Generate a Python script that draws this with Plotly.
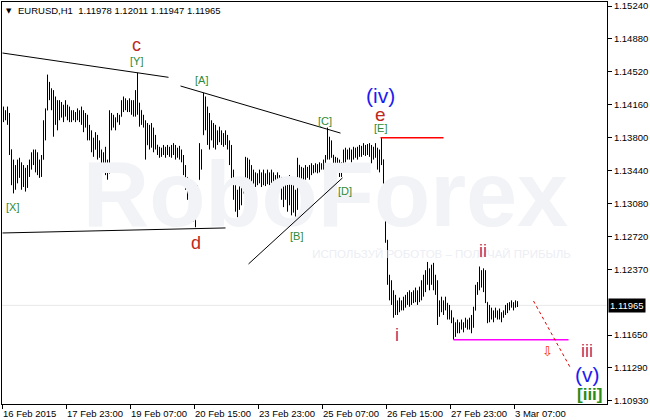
import plotly.graph_objects as go

# ---------------- price data (EURUSD H1), values in price x 10000 ----------------
HIGH_PTS = [
    11414, 11410, 11414, 11407, 11367, 11356, 11350, 11356, 11358, 11353,
    11350, 11347, 11350, 11356, 11364, 11367, 11367, 11364, 11356, 11361,
    11399, 11412, 11449, 11441, 11434, 11432, 11425, 11421, 11421, 11419,
    11416, 11421, 11416, 11414, 11410, 11410, 11408, 11412, 11410, 11414,
    11410, 11407, 11405, 11394, 11388, 11380, 11386, 11383, 11377, 11367,
    11364, 11370, 11356, 11410, 11407, 11405, 11402, 11407, 11405, 11421,
    11425, 11423, 11421, 11423, 11421, 11421, 11432, 11451, 11418, 11410,
    11405, 11399, 11396, 11394, 11396, 11391, 11383, 11372, 11370, 11369,
    11372, 11370, 11372, 11370, 11372, 11374, 11372, 11369, 11371, 11367,
    11361, 11350, 11337, 11334, 11328, 11323, 11312, 11328, 11374, 11367,
    11429, 11425, 11414, 11407, 11399, 11396, 11394, 11388, 11392, 11388,
    11385, 11388, 11383, 11377, 11372, 11345, 11328, 11323, 11328, 11331,
    11334, 11359, 11358, 11356, 11350, 11345, 11342, 11341, 11345, 11342,
    11345, 11341, 11345, 11342, 11345, 11342, 11339, 11342, 11339, 11337,
    11334, 11336, 11331, 11339, 11334, 11328, 11323, 11358, 11350, 11348,
    11347, 11350, 11348, 11350, 11352, 11350, 11352, 11351, 11353, 11352,
    11356, 11361, 11391, 11381, 11377, 11361, 11359, 11358, 11356, 11353,
    11367, 11369, 11367, 11369, 11367, 11370, 11369, 11370, 11372, 11371,
    11374, 11372, 11373, 11374, 11372, 11370, 11374, 11369, 11367, 11380,
    11356, 11323, 11268, 11230, 11224, 11213, 11208, 11202, 11205, 11202,
    11206, 11208, 11211, 11213, 11211, 11213, 11216, 11213, 11217, 11224,
    11230, 11235, 11244, 11237, 11241, 11243, 11230, 11224, 11202, 11206,
    11202, 11206, 11199, 11197, 11191, 11183, 11178, 11181, 11178, 11181,
    11178, 11183, 11181, 11183, 11186, 11195, 11219, 11222, 11239, 11235,
    11237, 11235, 11200, 11197, 11194, 11191, 11194, 11191, 11193, 11189,
    11191, 11197, 11199, 11200, 11202, 11200, 11202, 11201.1,
]
LOW_PTS = [
    11397, 11399, 11394, 11361, 11328, 11319, 11323, 11330, 11336, 11323,
    11326, 11321, 11325, 11337, 11345, 11350, 11342, 11339, 11336, 11337,
    11356, 11377, 11410, 11421, 11410, 11381, 11394, 11388, 11399, 11402,
    11397, 11403, 11399, 11397, 11397, 11399, 11397, 11399, 11397, 11394,
    11386, 11391, 11377, 11377, 11364, 11359, 11367, 11356, 11358, 11345,
    11347, 11339, 11334, 11341, 11388, 11391, 11388, 11397, 11394, 11403,
    11408, 11410, 11408, 11408, 11405, 11403, 11403, 11405, 11392, 11394,
    11391, 11356, 11372, 11367, 11369, 11364, 11367, 11361, 11358, 11359,
    11361, 11358, 11361, 11359, 11358, 11361, 11356, 11358, 11356, 11353,
    11339, 11323, 11312, 11295, 11301, 11288, 11282, 11295, 11334, 11345,
    11383, 11388, 11372, 11367, 11377, 11369, 11367, 11372, 11375, 11372,
    11370, 11372, 11367, 11350, 11334, 11312, 11299, 11293, 11301, 11306,
    11319, 11323, 11334, 11328, 11325, 11328, 11326, 11328, 11330, 11326,
    11328, 11327, 11329, 11328, 11330, 11327, 11325, 11328, 11323, 11312,
    11304, 11312, 11299, 11306, 11295, 11298, 11290, 11301, 11328, 11330,
    11331, 11334, 11336, 11334, 11339, 11341, 11342, 11341, 11342, 11345,
    11345, 11347, 11356, 11356, 11358, 11345, 11339, 11342, 11337, 11337,
    11350, 11353, 11356, 11356, 11353, 11356, 11358, 11356, 11359, 11359,
    11361, 11360, 11361, 11359, 11352, 11356, 11358, 11345, 11342, 11350,
    11312, 11265, 11219, 11202, 11197, 11183, 11186, 11186, 11189, 11191,
    11191, 11194, 11197, 11195, 11197, 11199, 11200, 11197, 11200, 11202,
    11206, 11211, 11219, 11213, 11219, 11213, 11208, 11175, 11184, 11189,
    11186, 11191, 11181, 11181, 11177, 11159, 11162, 11166, 11166, 11170,
    11167, 11172, 11170, 11170, 11166, 11172, 11191, 11208, 11213, 11216,
    11211, 11199, 11177, 11178, 11181, 11178, 11183, 11181, 11181, 11178,
    11183, 11186, 11188, 11191, 11194, 11191, 11194, 11194.7,
]
CLOSE_PTS = [
    11408, 11402, 11405, 11367, 11339, 11328, 11334, 11345, 11339, 11334,
    11336, 11328, 11342, 11350, 11356, 11361, 11358, 11347, 11350, 11356,
    11394, 11405, 11427, 11432, 11421, 11399, 11410, 11412, 11408, 11410,
    11405, 11412, 11408, 11402, 11405, 11404, 11402, 11406, 11402, 11399,
    11394, 11399, 11388, 11383, 11372, 11367, 11377, 11367, 11364, 11356,
    11350, 11345, 11339, 11405, 11399, 11402, 11394, 11402, 11399, 11416,
    11416, 11419, 11412, 11419, 11412, 11410, 11427, 11421, 11410, 11399,
    11397, 11367, 11388, 11377, 11383, 11372, 11377, 11367, 11367, 11364,
    11369, 11367, 11367, 11364, 11367, 11369, 11367, 11364, 11361, 11358,
    11345, 11334, 11323, 11312, 11317, 11301, 11295, 11317, 11367, 11356,
    11421, 11410, 11399, 11394, 11388, 11383, 11380, 11380, 11383, 11377,
    11380, 11375, 11372, 11358, 11339, 11317, 11306, 11312, 11317, 11323,
    11328, 11350, 11345, 11339, 11342, 11336, 11334, 11336, 11339, 11334,
    11336, 11334, 11338, 11336, 11339, 11334, 11331, 11336, 11328, 11323,
    11317, 11328, 11312, 11328, 11306, 11312, 11306, 11350, 11339, 11342,
    11339, 11345, 11342, 11345, 11347, 11347, 11349, 11348, 11349, 11350,
    11352, 11358, 11372, 11367, 11361, 11350, 11347, 11350, 11345, 11350,
    11361, 11361, 11361, 11364, 11361, 11367, 11364, 11364, 11367, 11367,
    11369, 11367, 11369, 11367, 11361, 11364, 11367, 11356, 11356, 11361,
    11317, 11274, 11224, 11213, 11205, 11202, 11197, 11197, 11197, 11199,
    11200, 11202, 11205, 11208, 11205, 11208, 11210, 11206, 11211, 11219,
    11224, 11230, 11233, 11230, 11230, 11227, 11219, 11186, 11197, 11200,
    11195, 11199, 11191, 11191, 11186, 11175, 11170, 11175, 11172, 11175,
    11174, 11178, 11176, 11178, 11181, 11191, 11211, 11216, 11230, 11224,
    11222, 11208, 11186, 11189, 11186, 11186, 11188, 11186, 11187, 11184,
    11189, 11191, 11194, 11197, 11198, 11197, 11199, 11196.5,
]
FIRST_OPEN_PTS = 11410
LAST_OPEN_PTS = 11197.8
CURRENT_PRICE = 1.11965

X_TICK_TEXT = ["16 Feb 2015", "17 Feb 23:00", "19 Feb 07:00", "20 Feb 15:00",
               "23 Feb 23:00", "25 Feb 07:00", "26 Feb 15:00", "27 Feb 23:00",
               "3 Mar 07:00"]
BARS_PER_LABEL = 32
Y_TICK_VALS = [1.1524, 1.1488, 1.1452, 1.1416, 1.1380, 1.1344, 1.1308, 1.1272,
               1.1236, 1.1164, 1.1128, 1.1092]
Y_TICK_TEXT = ["1.15240", "1.14880", "1.14520", "1.14160", "1.13800", "1.13440",
               "1.13080", "1.12720", "1.12370", "1.11650", "1.11290", "1.10930"]

# analyst drawings: (x0, y0, x1, y1) in bar index / price
TREND_LINES = [
    (-0.5, 1.14726, 82.5, 1.14460),
    (88.5, 1.14365, 168.5, 1.13850),
    (-0.5, 1.12757, 111.0, 1.12812),
    (122.5, 1.12418, 169.5, 1.13360),
]
RED_LEVEL = (188.5, 220.0, 1.13800)
MAGENTA_LEVEL = (225.0, 282.5, 1.11590)
PROJECTION = (265.0, 1.12013, 283.5, 1.11280)

RED = "#c0281e"
GREEN = "#2e8b3a"
BLUE = "#1c1cf0"
ROSE = "#b2336a"
WAVE_LABELS = [
    ("c", 66.5, 1.14814, RED, 18),
    ("[Y]", 66.5, 1.14639, GREEN, 11),
    ("[A]", 99.0, 1.14430, GREEN, 11),
    ("[C]", 160.5, 1.13980, GREEN, 11),
    ("(iv)", 188.5, 1.14256, BLUE, 21),
    ("e", 188.5, 1.14048, RED, 19),
    ("[E]", 188.5, 1.13906, GREEN, 11),
    ("[X]", 4.5, 1.13041, GREEN, 11),
    ("d", 96.0, 1.12648, RED, 18),
    ("[B]", 146.5, 1.12724, GREEN, 11),
    ("[D]", 170.5, 1.13216, GREEN, 11),
    ("i", 196.5, 1.11641, ROSE, 18),
    ("ii", 239.5, 1.12560, ROSE, 18),
    ("iii", 291.5, 1.11466, ROSE, 18),
    ("(v)", 292.0, 1.11204, BLUE, 21),
]

# ---------------- build ----------------
high = [v / 10000 for v in HIGH_PTS]
low = [v / 10000 for v in LOW_PTS]
close = [v / 10000 for v in CLOSE_PTS]
n = len(high)
bars = list(range(n))
opn = []
for i in range(n):
    if i == 0:
        o = FIRST_OPEN_PTS / 10000
    else:
        o = min(max(close[i - 1], low[i]), high[i])
    opn.append(o)
opn[-1] = LAST_OPEN_PTS / 10000

FONT = "Liberation Sans"
fig = go.Figure()

# watermark (behind bars)
fig.add_trace(go.Scatter(x=[161], y=[1.13085], mode="text", text=["<b>RoboForex</b>"],
                         textfont=dict(family=FONT, size=92, color="#f1f3f7"),
                         hoverinfo="skip", showlegend=False))
fig.add_trace(go.Scatter(x=[219], y=[1.12516], mode="text",
                         text=["ИСПОЛЬЗУЙ РОБОТОВ – ПОЛУЧАЙ ПРИБЫЛЬ"],
                         textfont=dict(family=FONT, size=11.5, color="#eceef4"),
                         hoverinfo="skip", showlegend=False))

fig.add_trace(go.Ohlc(x=bars, open=opn, high=high, low=low, close=close,
                      increasing=dict(line=dict(color="black", width=1)),
                      decreasing=dict(line=dict(color="black", width=1)),
                      tickwidth=0.2, hoverinfo="skip", showlegend=False))

shapes = []
# bid line
shapes.append(dict(type="line", xref="paper", x0=0, x1=1, yref="y",
                   y0=CURRENT_PRICE, y1=CURRENT_PRICE,
                   line=dict(color="#e8e8e8", width=1), layer="below"))
for (x0, y0, x1, y1) in TREND_LINES:
    shapes.append(dict(type="line", x0=x0, y0=y0, x1=x1, y1=y1,
                       line=dict(color="black", width=1)))
shapes.append(dict(type="line", x0=RED_LEVEL[0], x1=RED_LEVEL[1],
                   y0=RED_LEVEL[2], y1=RED_LEVEL[2],
                   line=dict(color="#ff0000", width=1.5)))
shapes.append(dict(type="line", x0=MAGENTA_LEVEL[0], x1=MAGENTA_LEVEL[1],
                   y0=MAGENTA_LEVEL[2], y1=MAGENTA_LEVEL[2],
                   line=dict(color="#ff00ff", width=1.5)))
shapes.append(dict(type="line", x0=PROJECTION[0], y0=PROJECTION[1],
                   x1=PROJECTION[2], y1=PROJECTION[3],
                   line=dict(color="#e00000", width=1, dash="dot")))

ann = []
for (t, x, y, c, s) in WAVE_LABELS:
    ann.append(dict(x=x, y=y, text=t, showarrow=False,
                    font=dict(family=FONT, size=s, color=c)))
ann.append(dict(x=293, y=1.10985, text="<b>[iii]</b>", showarrow=False,
                font=dict(family=FONT, size=17, color="#2a8a1a")))
ann.append(dict(x=272, y=1.11455, text="⇩", showarrow=False,
                font=dict(family="DejaVu Sans", size=13, color="#ff2a00")))

# x labels (left aligned at tick)
x_ticks = [BARS_PER_LABEL * k - 0.75 for k in range(len(X_TICK_TEXT))]
for xv, t in zip(x_ticks, X_TICK_TEXT):
    ann.append(dict(x=xv, y=0, yref="paper", text=t, showarrow=False,
                    xanchor="left", yanchor="top", xshift=-1, yshift=-2,
                    font=dict(family=FONT, size=9.5, color="black")))

# header
ann.append(dict(xref="paper", yref="paper", x=0, y=1, xanchor="left", yanchor="top",
                xshift=2, yshift=-3, text="▼", showarrow=False,
                font=dict(family="DejaVu Sans", size=7, color="black")))
ann.append(dict(xref="paper", yref="paper", x=0, y=1, xanchor="left", yanchor="top",
                xshift=14, yshift=-1,
                text="EURUSD,H1\u00a0\u00a01.11978 1.12011 1.11947 1.11965",
                showarrow=False, font=dict(family=FONT, size=9.5, color="black")))
# current price box
ann.append(dict(xref="paper", yref="y", x=1, y=CURRENT_PRICE, xanchor="left",
                yanchor="middle", xshift=1, text="1.11965", showarrow=False,
                bgcolor="black", borderpad=1,
                font=dict(family=FONT, size=9.5, color="white")))

fig.update_layout(
    template="none",
    width=650, height=420,
    margin=dict(l=2, r=43, t=2, b=16),
    paper_bgcolor="white", plot_bgcolor="white",
    showlegend=False,
    font=dict(family=FONT, size=9.5, color="black"),
    shapes=shapes, annotations=ann,
    xaxis=dict(range=[-0.75, 301.75], rangeslider=dict(visible=False),
               showgrid=False, zeroline=False, showline=True, mirror=True,
               linecolor="black", linewidth=1,
               tickvals=x_ticks, ticktext=[""] * len(x_ticks),
               ticks="outside", ticklen=4, tickcolor="black", automargin=False),
    yaxis=dict(range=[1.10886, 1.15284], side="right",
               tickvals=Y_TICK_VALS, ticktext=Y_TICK_TEXT,
               ticks="outside", ticklen=4, tickcolor="black",
               tickfont=dict(family=FONT, size=9.5, color="black"),
               showgrid=False, zeroline=False, showline=True, mirror=True,
               linecolor="black", linewidth=1, automargin=False),
)

fig.write_html("out.html", config={"displayModeBar": False},
               post_script="document.body.style.margin='0';document.body.style.padding='0';")
